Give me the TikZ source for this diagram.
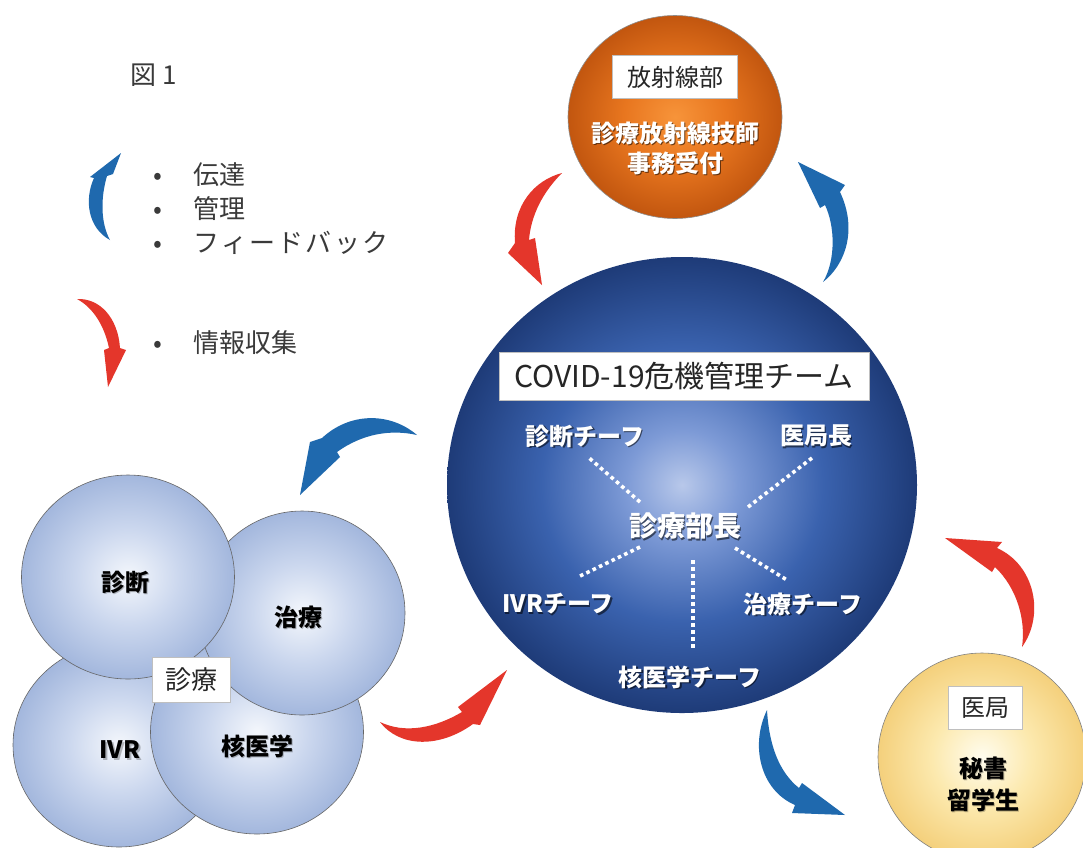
\documentclass[tikz,border=0pt]{standalone}
\usepackage{fontspec}
\newfontfamily\jp{Noto Sans CJK JP}
\usetikzlibrary{shapes.geometric}

\definecolor{arrblue}{HTML}{1F69AE}
\definecolor{arrred}{HTML}{E4362B}
\definecolor{bbA}{HTML}{B8C8EA}
\definecolor{bbB}{HTML}{7D9AD6}
\definecolor{bbC}{HTML}{3A62AE}
\definecolor{bbD}{HTML}{1E3B78}
\definecolor{obA}{HTML}{F7943A}
\definecolor{obB}{HTML}{E8761F}
\definecolor{obC}{HTML}{C2560F}
\definecolor{ybA}{HTML}{FFFCEE}
\definecolor{ybB}{HTML}{FCE9AE}
\definecolor{ybC}{HTML}{F4D07C}
\definecolor{sbA}{HTML}{F4F7FC}
\definecolor{sbB}{HTML}{CBD7EE}
\definecolor{sbC}{HTML}{A3B7DD}
\definecolor{legendtxt}{HTML}{3A3A3A}

\pgfdeclareradialshading{bigball}{\pgfpoint{0bp}{0bp}}{color(0bp)=(bbA); color(6bp)=(bbB); color(15bp)=(bbC); color(25bp)=(bbD); color(50bp)=(bbD)}
\pgfdeclareradialshading{orangeball}{\pgfpoint{0bp}{0bp}}{color(0bp)=(obA); color(12bp)=(obB); color(25bp)=(obC); color(50bp)=(obC)}
\pgfdeclareradialshading{yellowball}{\pgfpoint{0bp}{0bp}}{color(0bp)=(ybA); color(12bp)=(ybB); color(25bp)=(ybC); color(50bp)=(ybC)}
\pgfdeclareradialshading{smallball}{\pgfpoint{0bp}{0bp}}{color(0bp)=(sbA); color(12bp)=(sbB); color(25bp)=(sbC); color(50bp)=(sbC)}

\newcommand\shl[5]{%
  \node[#3,#4] at ([shift={(1.6,1.6)}]#2) {#5};
  \node[#3] (#1) at (#2) {#5};}
\newcommand\ks{\hspace{2.2pt}}

\begin{document}
\begin{tikzpicture}[x=1pt,y=-1pt,
  ball/.style={ellipse, inner sep=0pt, shade},
  labelbox/.style={draw=black!25, fill=white, inner sep=0pt, text=black!85,
    font=\jp\fontsize{24}{28}\selectfont},
  wlabel/.style={text=white, font=\jp\bfseries\fontsize{24}{28}\selectfont},
  bigwlabel/.style={text=white, font=\jp\bfseries\fontsize{28}{32}\selectfont},
  klabel/.style={text=black, font=\jp\bfseries\fontsize{24}{28}\selectfont},
  darkshadow/.style={text=black, opacity=0.55},
  lightshadow/.style={text=black, opacity=0.25},
  dotline/.style={white, line width=3.6pt, dash pattern=on 3.6pt off 3.4pt},
  legend/.style={anchor=west, text=legendtxt, font=\jp\fontsize{26}{30}\selectfont, inner sep=0pt},
  bluearrow/.style={fill=arrblue},
  redarrow/.style={fill=arrred}]

\useasboundingbox (0,0) rectangle (1083,847);
\clip (0,0) rectangle (1083,847);
\fill[white] (0,0) rectangle (1083,847);

% ---------- legend ----------
\node[legend] (fig) at (130,75) {図 1};
\node[legend] (l1) at (153,175) {\makebox[40pt][l]{•}伝達};
\node[legend] (l2) at (153,209) {\makebox[40pt][l]{•}管理};
\node[legend] (l3) at (153,243) {\makebox[40pt][l]{•}フ\ks ィ\ks ー\ks ド\ks バ\ks ッ\ks ク};
\node[legend] (l4) at (153,343) {\makebox[40pt][l]{•}情報収集};

\path[bluearrow] (110,240) .. controls (88,228) and (84,200) .. (94,178)
  -- (90,177) -- (121,153) -- (113,174) -- (107,176)
  .. controls (101,196) and (100,222) .. (110,240) -- cycle;
\path[redarrow] (77,299) .. controls (100,298) and (118,318) .. (120,348)
  -- (126,350) -- (108,387) -- (104,350) -- (109,348)
  .. controls (104,324) and (92,307) .. (77,299) -- cycle;

% ---------- big team circle ----------
\node[ball, shading=bigball, minimum width=470pt, minimum height=456pt] (team) at (682,485) {};
\node[labelbox, minimum width=370pt, minimum height=48pt, font=\jp\fontsize{30}{34}\selectfont] (title) at (684,376) {COVID-19危機管理チーム};

\shl{chief1}{585,436}{wlabel}{darkshadow}{診断チーフ}
\shl{ikyoku}{816,436}{wlabel}{darkshadow}{医局長}
\shl{head}{685,526}{bigwlabel}{darkshadow}{診療部長}
\shl{chief2}{558,604}{wlabel}{darkshadow}{IVRチーフ}
\shl{chief3}{803,604}{wlabel}{darkshadow}{治療チーフ}
\shl{chief4}{690,677}{wlabel}{darkshadow}{核医学チーフ}

\coordinate (d1a) at (640,502); \coordinate (d1b) at (588,457);
\coordinate (d2a) at (748,507); \coordinate (d2b) at (812,458);
\coordinate (d3a) at (640,547); \coordinate (d3b) at (578,577);
\coordinate (d4a) at (735,548); \coordinate (d4b) at (787,580);
\coordinate (d5a) at (693,560); \coordinate (d5b) at (693,648);
\draw[dotline] (d1a) -- (d1b);
\draw[dotline] (d2a) -- (d2b);
\draw[dotline] (d3a) -- (d3b);
\draw[dotline] (d4a) -- (d4b);
\draw[dotline] (d5a) -- (d5b);

% ---------- radiology (orange) ----------
\node[ball, shading=orangeball, draw=black!45, line width=0.6pt, minimum width=214pt, minimum height=203pt] (rad) at (675,117) {};
\node[labelbox, minimum width=125pt, minimum height=43pt] (radlab) at (675,77) {放射線部};
\shl{rad1}{675,133}{wlabel}{darkshadow}{診療放射線技師}
\shl{rad2}{675,163}{wlabel}{darkshadow}{事務受付}

% ---------- medical office (yellow) ----------
\node[ball, shading=yellowball, draw=black!50, line width=0.6pt, minimum width=208pt, minimum height=208pt] (med) at (982,757) {};
\node[labelbox, minimum width=74pt, minimum height=43pt] (medlab) at (985,708) {医局};
\shl{med1}{983,768}{klabel}{lightshadow}{秘書}
\shl{med2}{983,800}{klabel}{lightshadow}{留学生}

% ---------- clinical (small blue) ----------
\node[ball, shading=smallball, draw=black!60, line width=0.6pt, minimum width=212pt, minimum height=204pt] (ivr) at (119,745) {};
\node[ball, shading=smallball, draw=black!60, line width=0.6pt, minimum width=213pt, minimum height=204pt] (nuc) at (257,732) {};
\node[ball, shading=smallball, draw=black!60, line width=0.6pt, minimum width=206pt, minimum height=204pt] (thr) at (302,613) {};
\node[ball, shading=smallball, draw=black!60, line width=0.6pt, minimum width=213pt, minimum height=204pt] (diag) at (128,577) {};
\shl{diagt}{125,582}{klabel}{lightshadow}{診断}
\shl{thrt}{298,617}{klabel}{lightshadow}{治療}
\shl{ivrt}{120,750}{klabel}{lightshadow}{IVR}
\shl{nuct}{257,746}{klabel}{lightshadow}{核医学}
\node[labelbox, minimum width=78pt, minimum height=45pt, font=\jp\fontsize{26}{30}\selectfont] (clin) at (191,680) {診療};

% ---------- arrows ----------
% red: radiology -> team
\path[redarrow] (562,173) .. controls (535,180) and (512,205) .. (515,243)
  -- (508,253) -- (542,285) -- (535,238) -- (529,240)
  .. controls (531,215) and (543,192) .. (562,173) -- cycle;
% blue: team -> radiology
\path[bluearrow] (823,282) .. controls (845,265) and (858,230) .. (840,192)
  -- (845,185) -- (798,162) -- (820,208) -- (825,205)
  .. controls (835,226) and (836,260) .. (823,282) -- cycle;
% blue: team -> clinical
\path[bluearrow] (417,435) .. controls (390,412) and (350,412) .. (322,438)
  -- (310,442) -- (300,495) -- (340,457) -- (337,452)
  .. controls (362,434) and (390,429) .. (417,435) -- cycle;
% red: clinical -> team
\path[redarrow] (380,722) .. controls (400,748) and (440,748) .. (473,724)
  -- (480,725) -- (507,670) -- (458,707) -- (462,712)
  .. controls (435,728) and (405,734) .. (380,722) -- cycle;
% blue: team -> medical office
\path[bluearrow] (767,710) .. controls (750,745) and (760,790) .. (795,805)
  -- (792,813) -- (845,815) -- (802,783) -- (799,788)
  .. controls (779,772) and (769,745) .. (767,710) -- cycle;
% red: medical office -> team
\path[redarrow] (1022,647) .. controls (1045,615) and (1035,565) .. (997,548)
  -- (1002,542) -- (945,538) -- (992,572) -- (995,567)
  .. controls (1017,588) and (1026,620) .. (1022,647) -- cycle;
\end{tikzpicture}
\end{document}
